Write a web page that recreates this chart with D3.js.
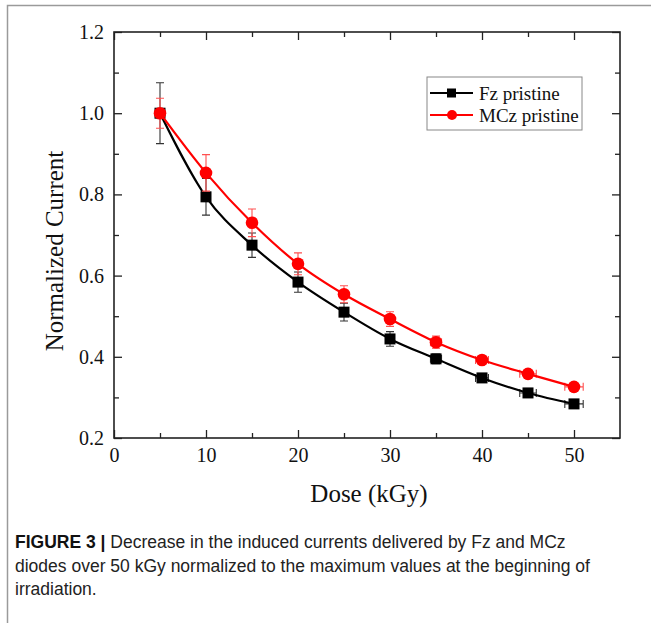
<!DOCTYPE html>
<html>
<head>
<meta charset="utf-8">
<script src="https://cdn.jsdelivr.net/npm/d3@7"></script>
<style>
  body { margin: 0; background: #fff; }
  svg { display: block; }
</style>
</head>
<body>
<div id="chart"></div>
<script>
"use strict";

// ---- data
var doses = [5, 10, 15, 20, 25, 30, 35, 40, 45, 50];

var fzCurrent   = [1.000, 0.794, 0.675, 0.584, 0.510, 0.444, 0.395, 0.348, 0.311, 0.284];
var fzError     = [0.075, 0.045, 0.030, 0.025, 0.022, 0.018, 0.012, 0.010, 0.007, 0.006];
var fzDoseError = [0, 0, 0, 0, 0, 0, 0.6, 0.7, 0.9, 1.0];

var mczCurrent   = [1.000, 0.853, 0.730, 0.629, 0.554, 0.493, 0.436, 0.392, 0.358, 0.326];
var mczError     = [0.037, 0.045, 0.034, 0.027, 0.021, 0.018, 0.015, 0.010, 0.008, 0.008];
var mczDoseError = [0, 0, 0, 0, 0, 0, 0.6, 0.7, 0.9, 1.0];

var seriesNames = ["Fz pristine", "MCz pristine"];

var xMajorTicks = [0, 10, 20, 30, 40, 50];
var xMinorTicks = [5, 15, 25, 35, 45];
var yMajorTicks = [0.2, 0.4, 0.6, 0.8, 1.0, 1.2];
var yMinorTicks = [0.3, 0.5, 0.7, 0.9, 1.1];

var captionHead = "FIGURE 3 |";
var captionLines = [
    " Decrease in the induced currents delivered by Fz and MCz",
    "diodes over 50 kGy normalized to the maximum values at the beginning of",
    "irradiation."
];

// ---- layout
var width = 651, height = 623;
var plot = { left: 114, top: 32, right: 620, bottom: 438 };
var serif = "'Liberation Serif', 'Times New Roman', serif";

var svg = d3.select("#chart").append("svg")
    .attr("width", width)
    .attr("height", height);

//outer frame of the figure panel (left + top edge only)
svg.append("path")
    .attr("d", "M7.5," + height + "V5.5H" + width)
    .attr("fill", "none")
    .attr("stroke", "#9a9a9a")
    .attr("stroke-width", 1.5);

var x = d3.scaleLinear().domain([0, 55]).range([plot.left, plot.right]);
var y = d3.scaleLinear().domain([0.2, 1.2]).range([plot.bottom, plot.top]);

// ---- axes, ticks pointing inward on all four sides
function styleAxis(g) {
    g.select(".domain").remove();
    g.selectAll("line").attr("stroke", "#222").attr("stroke-width", 1.3);
    g.selectAll("text")
        .attr("font-family", serif)
        .attr("font-size", 20)
        .attr("fill", "#111");
}

svg.append("g")
    .attr("transform", "translate(0," + plot.bottom + ")")
    .call(d3.axisBottom(x).tickValues(xMajorTicks).tickSize(-8).tickPadding(10).tickFormat(d3.format("d")))
    .call(styleAxis);
svg.append("g")
    .attr("transform", "translate(0," + plot.bottom + ")")
    .call(d3.axisBottom(x).tickValues(xMinorTicks).tickSize(-5).tickFormat(""))
    .call(styleAxis);
svg.append("g")
    .attr("transform", "translate(0," + plot.top + ")")
    .call(d3.axisTop(x).tickValues(xMajorTicks).tickSize(-8).tickFormat(""))
    .call(styleAxis);
svg.append("g")
    .attr("transform", "translate(0," + plot.top + ")")
    .call(d3.axisTop(x).tickValues(xMinorTicks).tickSize(-5).tickFormat(""))
    .call(styleAxis);

svg.append("g")
    .attr("transform", "translate(" + plot.left + ",0)")
    .call(d3.axisLeft(y).tickValues(yMajorTicks).tickSize(-8).tickPadding(10).tickFormat(d3.format(".1f")))
    .call(styleAxis);
svg.append("g")
    .attr("transform", "translate(" + plot.left + ",0)")
    .call(d3.axisLeft(y).tickValues(yMinorTicks).tickSize(-5).tickFormat(""))
    .call(styleAxis);
svg.append("g")
    .attr("transform", "translate(" + plot.right + ",0)")
    .call(d3.axisRight(y).tickValues(yMajorTicks).tickSize(-8).tickFormat(""))
    .call(styleAxis);
svg.append("g")
    .attr("transform", "translate(" + plot.right + ",0)")
    .call(d3.axisRight(y).tickValues(yMinorTicks).tickSize(-5).tickFormat(""))
    .call(styleAxis);

//plot frame
svg.append("rect")
    .attr("x", plot.left)
    .attr("y", plot.top)
    .attr("width", plot.right - plot.left)
    .attr("height", plot.bottom - plot.top)
    .attr("fill", "none")
    .attr("stroke", "#222")
    .attr("stroke-width", 1.6);

// axis titles
svg.append("text")
    .attr("x", (plot.left + plot.right) / 2 + 2)
    .attr("y", 502)
    .attr("text-anchor", "middle")
    .attr("font-family", serif)
    .attr("font-size", 25)
    .attr("fill", "#111")
    .text("Dose (kGy)");

svg.append("text")
    .attr("transform", "translate(63,251) rotate(-90)")
    .attr("text-anchor", "middle")
    .attr("font-family", serif)
    .attr("font-size", 25)
    .attr("fill", "#111")
    .text("Normalized Current");

// ---- series
var series = [
    { name: seriesNames[0], values: fzCurrent, err: fzError, xerr: fzDoseError,
      color: "#000", errColor: "#333", shape: "square" },
    { name: seriesNames[1], values: mczCurrent, err: mczError, xerr: mczDoseError,
      color: "#ff0000", errColor: "#ff5050", shape: "circle" }
];

var line = d3.line()
    .x(function(d) { return x(d.dose); })
    .y(function(d) { return y(d.value); })
    .curve(d3.curveMonotoneX);

series.forEach(function(s) {
    var pts = doses.map(function(dose, i) {
        return { dose: dose, value: s.values[i], err: s.err[i], xerr: s.xerr[i] };
    });
    var g = svg.append("g");

    //error bars first so markers sit on top
    var eb = g.append("g")
        .attr("stroke", s.errColor)
        .attr("stroke-width", 1.1)
        .attr("fill", "none");
    pts.forEach(function(d) {
        var cx = x(d.dose), y0 = y(d.value - d.err), y1 = y(d.value + d.err);
        eb.append("path").attr("d",
            "M" + cx + "," + y0 + "V" + y1 +
            "M" + (cx - 4) + "," + y0 + "H" + (cx + 4) +
            "M" + (cx - 4) + "," + y1 + "H" + (cx + 4));
        if (d.xerr > 0) {
            var cy = y(d.value), x0 = x(d.dose - d.xerr), x1 = x(d.dose + d.xerr);
            eb.append("path").attr("d",
                "M" + x0 + "," + cy + "H" + x1 +
                "M" + x0 + "," + (cy - 4) + "V" + (cy + 4) +
                "M" + x1 + "," + (cy - 4) + "V" + (cy + 4));
        }
    });

    g.append("path")
        .datum(pts)
        .attr("d", line)
        .attr("fill", "none")
        .attr("stroke", s.color)
        .attr("stroke-width", 2.2);

    if (s.shape === "square") {
        g.selectAll("rect.m").data(pts).enter().append("rect")
            .attr("class", "m")
            .attr("x", function(d) { return x(d.dose) - 5.5; })
            .attr("y", function(d) { return y(d.value) - 5.5; })
            .attr("width", 11).attr("height", 11)
            .attr("fill", s.color);
    } else {
        g.selectAll("circle.m").data(pts).enter().append("circle")
            .attr("class", "m")
            .attr("cx", function(d) { return x(d.dose); })
            .attr("cy", function(d) { return y(d.value); })
            .attr("r", 6.3)
            .attr("fill", s.color);
    }
});

// ---- legend
var legend = svg.append("g").attr("transform", "translate(427,77)");
legend.append("rect")
    .attr("width", 155).attr("height", 53)
    .attr("fill", "#fff")
    .attr("stroke", "#888")
    .attr("stroke-width", 1);

series.forEach(function(s, i) {
    var row = legend.append("g").attr("transform", "translate(0," + (16 + i * 22) + ")");
    row.append("line")
        .attr("x1", 3).attr("x2", 46)
        .attr("stroke", s.color).attr("stroke-width", 2);
    if (s.shape === "square") {
        row.append("rect").attr("x", 20).attr("y", -4.5).attr("width", 9).attr("height", 9).attr("fill", s.color);
    } else {
        row.append("circle").attr("cx", 25).attr("r", 5).attr("fill", s.color);
    }
    row.append("text")
        .attr("x", 52).attr("y", 6.5)
        .attr("font-family", serif)
        .attr("font-size", 19)
        .attr("fill", "#111")
        .text(s.name);
});

// ---- caption
var caption = svg.append("text")
    .attr("font-family", "'Liberation Sans', Arial, sans-serif")
    .attr("font-size", 17.5)
    .attr("fill", "#222");
captionLines.forEach(function(t, i) {
    var ln = caption.append("tspan").attr("x", 15).attr("y", 548 + i * 23.5);
    if (i === 0) {
        ln.append("tspan").attr("font-weight", "bold").attr("fill", "#111").text(captionHead);
        caption.append("tspan").text(t);
    } else {
        ln.text(t);
    }
});
</script>
</body>
</html>
